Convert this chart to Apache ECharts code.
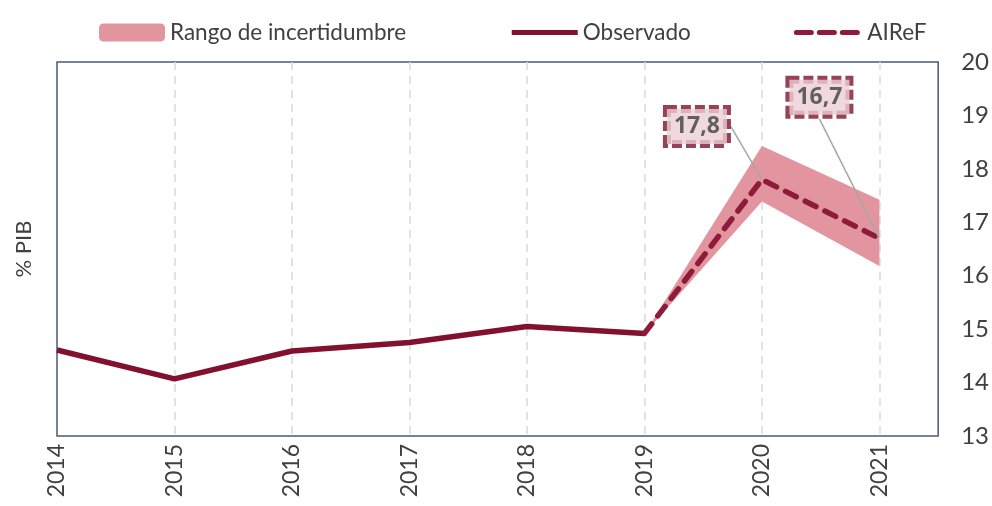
<!DOCTYPE html>
<html>
<head>
<meta charset="utf-8">
<script src="https://cdn.jsdelivr.net/npm/echarts@6/dist/echarts.min.js"></script>
<style>
  html, body { margin: 0; padding: 0; background: #fff; }
  #chart { width: 992px; height: 506px; }
</style>
</head>
<body>
<div id="chart"></div>
<script>
// datos
var years = [2014, 2015, 2016, 2017, 2018, 2019, 2020, 2021];
var observado = [14.61, 14.07, 14.59, 14.75, 15.05, 14.92];
var airefYears = [2019, 2020, 2021];
var airef = [14.92, 17.8, 16.7];
var rangoBajo = [14.92, 17.39, 16.18];
var rangoAlto = [14.92, 18.43, 17.42];

var granate = '#82102F';
var granateClaro = '#8E1B3A';
var rosa = '#E3959F';
var texto = '#404040';
var fuente = 'Lato';

function pares(xs, ys) {
  return ys.map(function (v, i) { return [xs[i], v]; });
}

var chart = echarts.init(document.getElementById('chart'));
chart.setOption({
  backgroundColor: '#fff',
  animation: false,
  textStyle: { fontFamily: fuente },
  legend: {
    top: 16,
    left: 94,
    itemGap: 103,
    itemWidth: 66,
    itemHeight: 18,
    textStyle: { fontSize: 22.5, color: texto, fontFamily: fuente },
    data: [
      { name: 'Rango de incertidumbre', icon: 'roundRect' },
      { name: 'Observado', itemStyle: { opacity: 0 }, lineStyle: { width: 5 } },
      { name: 'AIReF', itemStyle: { opacity: 0 }, lineStyle: { width: 5, type: [15, 8] } }
    ]
  },
  grid: {
    left: 57,
    right: 53,
    top: 62,
    bottom: 70,
    show: true,
    borderColor: '#4A5A78',
    borderWidth: 1.5
  },
  xAxis: {
    type: 'value',
    min: 2014,
    max: 2021.5,
    interval: 1,
    axisLine: { show: false },
    axisTick: { show: false },
    splitLine: {
      show: true,
      showMinLine: false,
      showMaxLine: false,
      lineStyle: { color: '#D9D9D9', width: 1.5, type: [8, 6] }
    },
    axisLabel: {
      rotate: 90,
      margin: 8,
      fontSize: 23,
      color: texto,
      fontFamily: fuente,
      formatter: function (v) { return Number.isInteger(v) ? String(v) : ''; }
    }
  },
  yAxis: [
    {
      type: 'value',
      position: 'right',
      min: 13,
      max: 20,
      interval: 1,
      axisLine: { show: false },
      axisTick: { show: false },
      splitLine: { show: false },
      axisLabel: { fontSize: 24, color: texto, margin: 23, fontFamily: fuente }
    },
    {
      type: 'value',
      position: 'left',
      min: 13,
      max: 20,
      interval: 1,
      name: '% PIB',
      nameLocation: 'middle',
      nameGap: 22,
      nameRotate: 90,
      nameTextStyle: { fontSize: 22, color: texto, fontFamily: fuente },
      axisLine: { show: false },
      axisTick: { show: false },
      splitLine: { show: false },
      axisLabel: { show: false }
    }
  ],
  series: [
    {
      name: 'Rango de incertidumbre',
      type: 'custom',
      itemStyle: { color: rosa },
      encode: { x: 0, y: 1 },
      data: pares(airefYears, rangoAlto),
      renderItem: function (params, api) {
        if (params.dataIndex !== 0) return null;
        var arriba = airefYears.map(function (x, i) { return api.coord([x, rangoAlto[i]]); });
        var abajo = airefYears.map(function (x, i) { return api.coord([x, rangoBajo[i]]); }).reverse();
        return {
          type: 'polygon',
          shape: { points: arriba.concat(abajo) },
          style: { fill: rosa }
        };
      }
    },
    {
      name: 'Observado',
      type: 'line',
      symbol: 'none',
      color: granate,
      lineStyle: { color: granate, width: 5.5 },
      data: pares(years, observado)
    },
    {
      name: 'AIReF',
      type: 'line',
      symbol: 'none',
      color: granateClaro,
      lineStyle: { color: granateClaro, width: 5.5, type: [12, 10], cap: 'round' },
      data: pares(airefYears, airef)
    },
    {
      name: 'etiquetas',
      type: 'scatter',
      symbolSize: 2,
      itemStyle: { color: 'rgba(0,0,0,0)' },
      z: 10,
      data: pares(airefYears.slice(1), airef.slice(1)),
      label: {
        show: true,
        position: 'inside',
        formatter: function (p) { return p.value[1].toFixed(1).replace('.', ','); },
        fontSize: 23,
        fontWeight: 'bold',
        color: texto,
        fontFamily: 'Noto Sans',
        lineHeight: 26,
        backgroundColor: '#EBCFD3',
        borderColor: '#7E1330',
        borderType: [10, 4],
        borderWidth: 4,
        padding: [5, 7, 4, 7]
      },
      labelLine: { show: true, lineStyle: { color: '#A6A6A6', width: 1.5 } },
      labelLayout: function (p) {
        var desplaz = [[-65, -53], [-60, -141]][p.dataIndex];
        var r = p.labelRect;
        var cy = r.y + r.height / 2 + desplaz[1];
        var derecha = r.x + r.width + desplaz[0];
        var tx = p.rect.x + p.rect.width / 2;
        var ty = p.rect.y + p.rect.height / 2;
        return {
          dx: desplaz[0],
          dy: desplaz[1],
          labelLinePoints: [[tx, ty], [derecha + 10, cy], [derecha, cy]]
        };
      }
    }
  ]
});
</script>
</body>
</html>
